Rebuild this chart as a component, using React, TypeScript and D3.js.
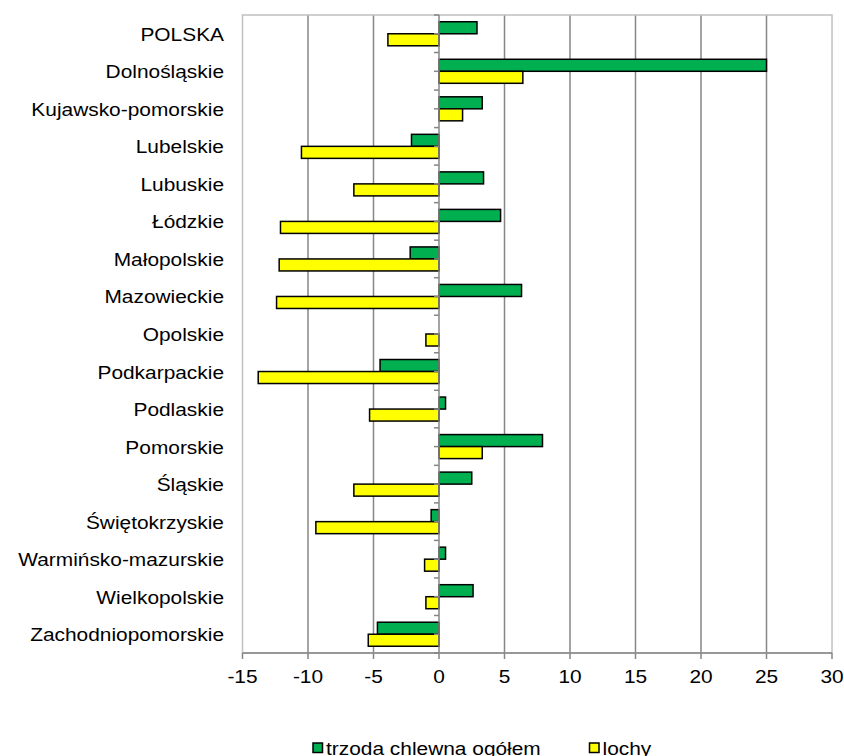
import { useEffect, useRef } from "react";
import * as d3 from "d3";

const categories = [
  "POLSKA",
  "Dolnośląskie",
  "Kujawsko-pomorskie",
  "Lubelskie",
  "Lubuskie",
  "Łódzkie",
  "Małopolskie",
  "Mazowieckie",
  "Opolskie",
  "Podkarpackie",
  "Podlaskie",
  "Pomorskie",
  "Śląskie",
  "Świętokrzyskie",
  "Warmińsko-mazurskie",
  "Wielkopolskie",
  "Zachodniopomorskie",
];
const trzoda = [2.9, 25.0, 3.3, -2.1, 3.4, 4.7, -2.2, 6.3, 0, -4.5, 0.5, 7.9, 2.5, -0.6, 0.5, 2.6, -4.7];
const lochy = [-3.9, 6.4, 1.8, -10.5, -6.5, -12.1, -12.2, -12.4, -1.0, -13.8, -5.3, 3.3, -6.5, -9.4, -1.1, -1.0, -5.4];
const xTicks = [-15, -10, -5, 0, 5, 10, 15, 20, 25, 30];
const seriesNames = ["trzoda chlewna ogółem", "lochy"];
const seriesColors = ["#00b050", "#ffff00"];

const W = 844;
const H = 756;
const m = { left: 242.5, right: 832, top: 15, bottom: 653 };
const FONT = "'Liberation Sans', Arial, sans-serif";
const SX = 1.13; // the reference text is a bit wider than it is tall

export default function App() {
  const ref = useRef<SVGSVGElement | null>(null);

  useEffect(() => {
    if (!ref.current) return;
    const svg = d3.select(ref.current);
    svg.selectAll("*").remove();

    const x = d3.scaleLinear().domain([-15, 30]).range([m.left, m.right]);
    const y = d3.scaleBand<string>().domain(categories).range([m.top, m.bottom]).paddingInner(0.36).paddingOuter(0.18);
    const step = y.step();
    const yRaw = d3.scaleBand<string>().domain(categories).range([m.top, m.bottom]).padding(0);
    const inner = d3.scaleBand<string>().domain(seriesNames).range([0, y.bandwidth()]);

    svg.append("rect").attr("width", W).attr("height", H).attr("fill", "#fff");

    // gridlines
    svg.append("g")
      .selectAll("line")
      .data(xTicks.filter(t => t !== -15 && t !== 30 && t !== 0))
      .join("line")
      .attr("x1", d => x(d)).attr("x2", d => x(d))
      .attr("y1", m.top).attr("y2", m.bottom)
      .attr("stroke", "#868686").attr("stroke-width", 1.5);

    // plot border
    svg.append("rect")
      .attr("x", m.left).attr("y", m.top)
      .attr("width", m.right - m.left).attr("height", m.bottom - m.top)
      .attr("fill", "none").attr("stroke", "#c0c0c0").attr("stroke-width", 1.5);

    // bars
    const series = [trzoda, lochy];
    series.forEach((vals, si) => {
      svg.append("g")
        .selectAll("rect")
        .data(vals.map((v, i) => ({ v, c: categories[i] })).filter(d => d.v !== 0))
        .join("rect")
        .attr("x", d => x(Math.min(0, d.v)))
        .attr("width", d => Math.abs(x(d.v) - x(0)))
        .attr("y", d => (y(d.c) as number) + (inner(seriesNames[si]) as number))
        .attr("height", inner.bandwidth())
        .attr("fill", seriesColors[si])
        .attr("stroke", "#000").attr("stroke-width", 1.5);
    });

    // zero axis with ticks at every half category
    const zero = svg.append("g");
    zero.append("line")
      .attr("x1", x(0)).attr("x2", x(0)).attr("y1", m.top).attr("y2", m.bottom)
      .attr("stroke", "#868686").attr("stroke-width", 1.5);
    const halfTicks = d3.range(0, categories.length * 2 + 1).map(k => m.top + (k * step) / 2);
    zero.selectAll("line.t")
      .data(halfTicks)
      .join("line")
      .attr("class", "t")
      .attr("x1", x(0) - 5).attr("x2", x(0))
      .attr("y1", d => d).attr("y2", d => d)
      .attr("stroke", "#868686").attr("stroke-width", 1.5);

    // bottom axis
    const bottom = svg.append("g");
    bottom.append("line")
      .attr("x1", m.left).attr("x2", m.right).attr("y1", m.bottom).attr("y2", m.bottom)
      .attr("stroke", "#868686").attr("stroke-width", 1.5);
    bottom.selectAll("line.t")
      .data(xTicks)
      .join("line")
      .attr("class", "t")
      .attr("x1", d => x(d)).attr("x2", d => x(d))
      .attr("y1", m.bottom).attr("y2", m.bottom + 6)
      .attr("stroke", "#868686").attr("stroke-width", 1.5);
    bottom.selectAll("text")
      .data(xTicks)
      .join("text")
      .attr("transform", d => `translate(${x(d)},${m.bottom + 30}) scale(${SX},1)`)
      .attr("text-anchor", "middle")
      .attr("font-family", FONT).attr("font-size", 18.5)
      .attr("fill", "#000")
      .text(d => String(d));

    // category labels
    svg.append("g")
      .selectAll("text")
      .data(categories)
      .join("text")
      .attr("transform", d => `translate(224,${(yRaw(d) as number) + step / 2 + 7}) scale(${SX},1)`)
      .attr("text-anchor", "end")
      .attr("font-family", FONT).attr("font-size", 18.5)
      .attr("fill", "#000")
      .text(d => d);

    // legend
    const legendX = [313, 589.5];
    const lg = svg.append("g");
    seriesNames.forEach((name, i) => {
      lg.append("rect")
        .attr("x", legendX[i]).attr("y", 743)
        .attr("width", 9.5).attr("height", 9.5)
        .attr("fill", seriesColors[i]).attr("stroke", "#000").attr("stroke-width", 1.5);
      lg.append("text")
        .attr("transform", `translate(${legendX[i] + 13},${754.5}) scale(${SX},1)`)
        .attr("font-family", FONT).attr("font-size", 18.5)
        .attr("fill", "#000")
        .text(name);
    });
  }, []);

  return (
    <svg
      ref={ref}
      width={W}
      height={H}
      style={{ position: "absolute", left: 0, top: 0 }}
      role="img"
      aria-label="Zmiana pogłowia trzody chlewnej i loch według województw"
    />
  );
}
